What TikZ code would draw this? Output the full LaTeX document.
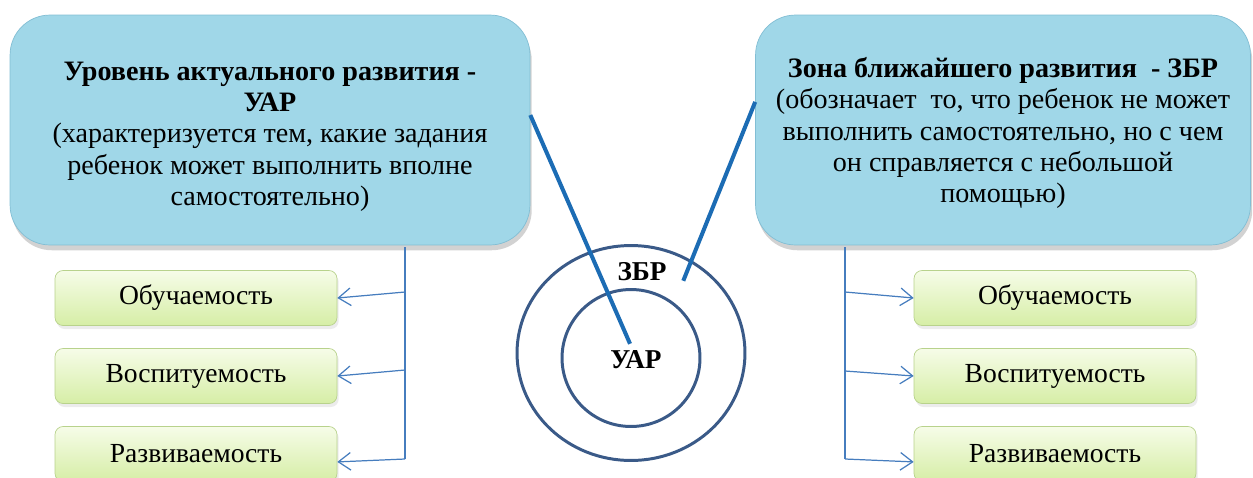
\documentclass[tikz,border=0pt]{standalone}
\usepackage{fontspec}
\setmainfont{Liberation Serif}
\usepackage{tikz}
\usetikzlibrary{shadows,arrows.meta,shapes.geometric}
\definecolor{boxblue}{RGB}{160,215,232}
\definecolor{boxedge}{RGB}{130,190,212}
\definecolor{skilltop}{RGB}{246,252,232}
\definecolor{skillbottom}{RGB}{214,238,166}
\definecolor{skilledge}{RGB}{184,210,140}
\definecolor{ringblue}{RGB}{58,90,136}
\definecolor{pointerblue}{RGB}{28,108,180}
\definecolor{branchblue}{RGB}{70,125,190}
\def\infobox{\node[draw=boxedge,fill=boxblue,rounded corners=0.8cm,align=center,minimum height=4.6cm,drop shadow={shadow xshift=1pt,shadow yshift=-3pt,fill=black!35},font=\fontsize{16}{17.8}\selectfont]}
\def\skillbox{\node[draw=skilledge,top color=skilltop,bottom color=skillbottom,rounded corners=0.16cm,minimum width=5.64cm,minimum height=1.1cm,drop shadow={shadow xshift=1pt,shadow yshift=-2pt,fill=black!15},font=\fontsize{15.7}{18}\selectfont]}
\def\drawpointer{\draw[color=pointerblue,line width=2.3pt]}
\def\drawbranch{\draw[color=branchblue,line width=0.7pt]}

\begin{document}
\begin{tikzpicture}[x=0.02cm,y=-0.02cm,>={Straight Barb[length=7pt,width=10pt]}]
\useasboundingbox (0,0) rectangle (1253,477);
\infobox[minimum width=10.4cm] (uar) at (270,130) {\rule{0pt}{18pt}\textbf{Уровень актуального развития -}\\\textbf{УАР}\\(характеризуется тем, какие задания\\ребенок может выполнить вполне\\самостоятельно)};
\infobox[minimum width=9.9cm] (zbr) at (1003,130) {\rule{0pt}{15pt}\textbf{Зона ближайшего развития\ \ - ЗБР}\\(обозначает\ \ то, что ребенок не может\\выполнить самостоятельно, но с чем\\он справляется с небольшой\\помощью)};
\skillbox (l1) at (196,298) {Обучаемость};
\skillbox (l2) at (196,376) {Воспитуемость};
\skillbox (l3) at (196,454) {Развиваемость};
\skillbox (r1) at (1055,298) {Обучаемость};
\skillbox (r2) at (1055,376) {Воспитуемость};
\skillbox (r3) at (1055,454) {Развиваемость};
\node[ellipse,draw=ringblue,line width=1.7pt,minimum width=4.56cm,minimum height=4.3cm] (outer) at (631,353) {};
\node[ellipse,draw=ringblue,line width=1.7pt,minimum width=2.76cm,minimum height=2.74cm] (inner) at (631,358) {};
\node[font=\fontsize{15.5}{18}\selectfont\bfseries] (zbrlbl) at (642,272) {ЗБР};
\node[font=\fontsize{15.5}{18}\selectfont\bfseries] (uarlbl) at (636,360) {УАР};
\coordinate (ltop) at (405,247);
\coordinate (lbot) at (405,459);
\coordinate (rtop) at (845,247);
\coordinate (rbot) at (845,459);
\drawbranch (ltop) -- (lbot);
\drawbranch[->] (405,292) -- (l1.east);
\drawbranch[->] (405,370) -- (l2.east);
\drawbranch[->] (lbot) -- ([yshift=-4.5pt]l3.east);
\drawbranch (rtop) -- (rbot);
\drawbranch[->] (845,292) -- (r1.west);
\drawbranch[->] (845,371) -- (r2.west);
\drawbranch[->] (rbot) -- ([yshift=-4.5pt]r3.west);
\drawpointer ([yshift=8.5pt]uar.east) -- ([xshift=-3.4pt,yshift=0.5pt]uarlbl.north);
\drawpointer ([yshift=16pt]zbr.west) -- ([xshift=6pt,yshift=-5pt]zbrlbl.east);
\end{tikzpicture}
\end{document}
